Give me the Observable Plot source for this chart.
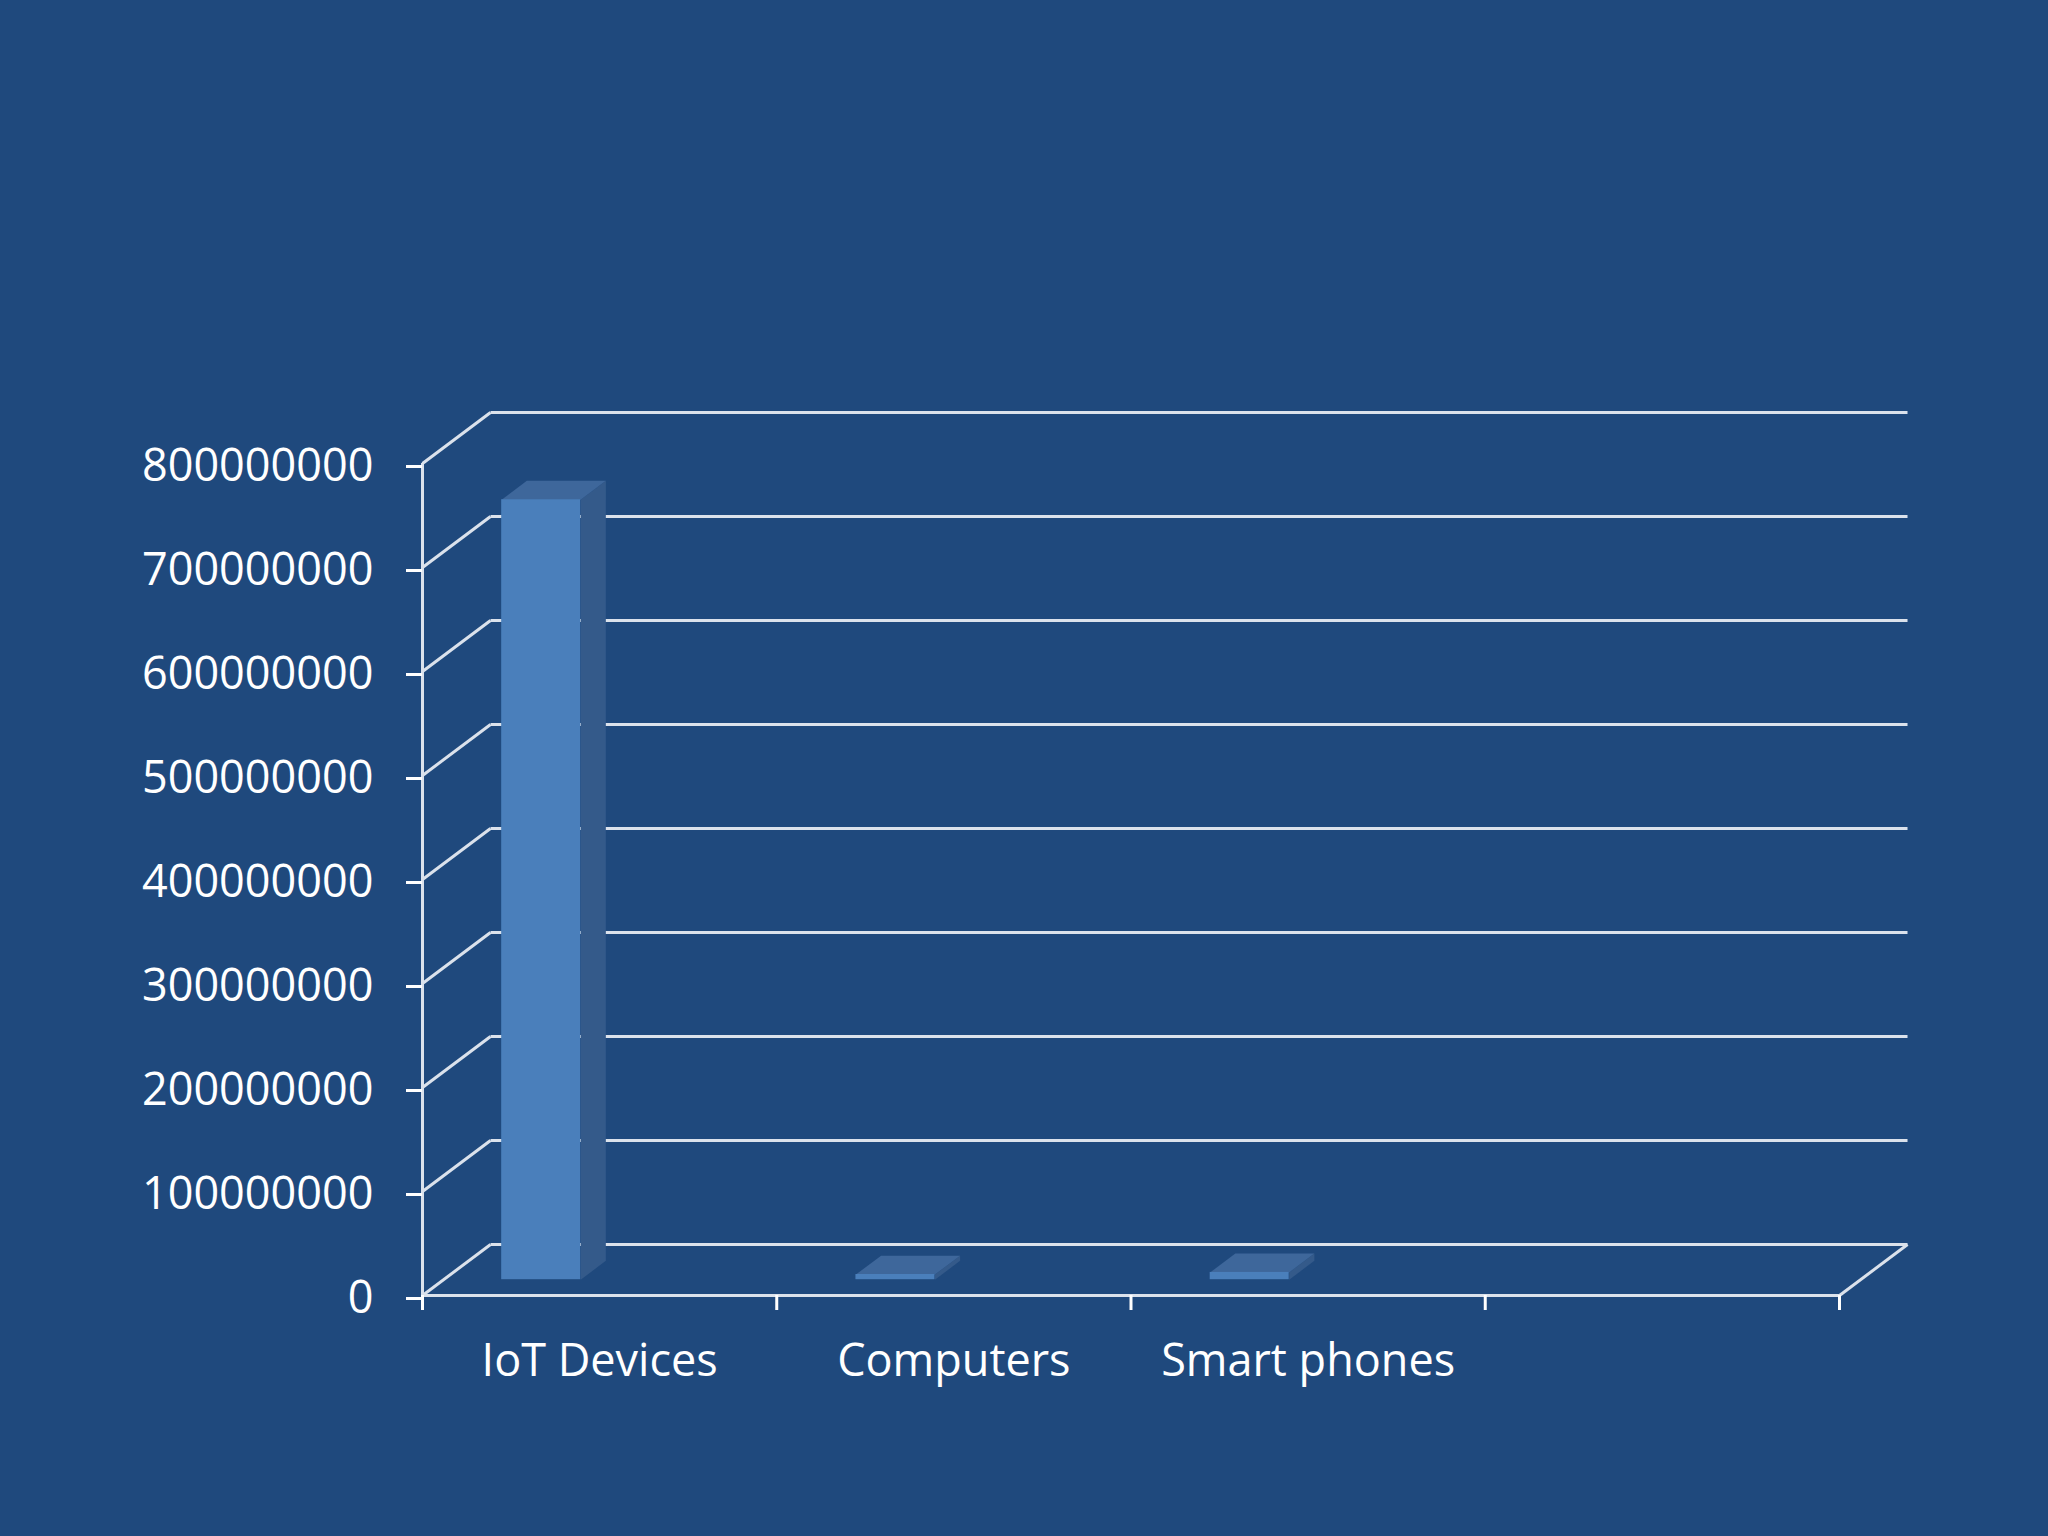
<!DOCTYPE html>
<html>
<head>
<meta charset="utf-8">
<script src="https://cdn.jsdelivr.net/npm/d3@7"></script>
<script src="https://cdn.jsdelivr.net/npm/@observablehq/plot@0.6"></script>
<style>
  html, body { margin: 0; padding: 0; background: #1f497d; }
  #chart { width: 2048px; height: 1536px; }
</style>
</head>
<body>
<div id="chart"></div>
<script>
// ---- data ----
const categories = ["IoT Devices", "Computers", "Smart phones", ""];
const values = [750000000, 5000000, 7000000, null];
const yTicks = [0, 100000000, 200000000, 300000000, 400000000, 500000000, 600000000, 700000000, 800000000];
const xTicks = [0, 1, 2, 3, 4];

// ---- oblique 3D projection (depth offsets expressed in scale units) ----
const DX = 0.192;        // full depth horizontal shift (category units)
const DY = 49000000;     // full depth vertical shift (value units)
const D0 = 0.31, D1 = 0.68;       // bar front/back depth fraction
const B0 = 0.164, B1 = 0.387;     // bar left/right within category band
const P = (x, v, d) => ({x: x + d * DX, y: v + d * DY});

const yMax = yTicks[yTicks.length - 1];
const nCat = categories.length;

// back wall gridlines
const backLines = yTicks.map(v => {
  const a = P(0, v, 1), b = P(nCat, v, 1);
  return {x1: a.x, y1: a.y, x2: b.x, y2: b.y};
});
// left wall diagonals
const sideLines = yTicks.map(v => {
  const a = P(0, v, 0), b = P(0, v, 1);
  return {x1: a.x, y1: a.y, x2: b.x, y2: b.y};
});
// floor right diagonal
const floorLines = [(() => { const a = P(nCat, 0, 0), b = P(nCat, 0, 1); return {x1: a.x, y1: a.y, x2: b.x, y2: b.y}; })()];

const fronts = [], sides = [], tops = [];
categories.forEach((c, i) => {
  const v = values[i];
  if (v == null) return;
  const l = i + B0, r = i + B1;
  const f0 = P(l, 0, D0), f1 = P(r, v, D0);
  fronts.push({x1: f0.x, x2: f1.x, y1: f0.y, y2: f1.y});
  [P(r, 0, D0), P(r, 0, D1), P(r, v, D1), P(r, v, D0)].forEach(p => sides.push({face: c, ...p}));
  [P(l, v, D0), P(r, v, D0), P(r, v, D1), P(l, v, D1)].forEach(p => tops.push({face: c, ...p}));
});

const labels = categories.map((c, i) => ({x: i + 0.5, label: c})).filter(d => d.label);

const grid = {stroke: "#dbe2ec", strokeWidth: 3};

const chart = Plot.plot({
  width: 2048,
  height: 1536,
  marginLeft: 422,
  marginRight: 209,
  marginTop: 463,
  marginBottom: 241,
  style: {background: "#1f497d", fontFamily: "'Open Sans', sans-serif", color: "white", overflow: "visible"},
  x: {type: "linear", domain: [0, nCat], axis: null},
  y: {type: "linear", domain: [0, yMax], axis: null},
  marks: [
    Plot.link(backLines, {x1: "x1", y1: "y1", x2: "x2", y2: "y2", ...grid}),
    Plot.link(sideLines, {x1: "x1", y1: "y1", x2: "x2", y2: "y2", ...grid}),
    Plot.link(floorLines, {x1: "x1", y1: "y1", x2: "x2", y2: "y2", ...grid}),
    Plot.line(sides, {x: "x", y: "y", z: "face", fill: "#345a8a", stroke: "none"}),
    Plot.line(tops, {x: "x", y: "y", z: "face", fill: "#3e679b", stroke: "none"}),
    Plot.rect(fronts, {x1: "x1", x2: "x2", y1: "y1", y2: "y2", fill: "#4a7fbb"}),
    Plot.ruleX([0], {y1: 0, y2: yMax, ...grid}),
    Plot.ruleY([0], {x1: 0, x2: nCat, ...grid}),
    Plot.axisY({ticks: yTicks, tickSize: 16, tickPadding: 33, tickFormat: d3.format("d"), fontSize: 45, color: "white", strokeWidth: 3, dy: 3}),
    Plot.axisX({ticks: xTicks, tickSize: 15, tickFormat: () => "", color: "white", strokeWidth: 3}),
    Plot.text(labels, {x: "x", y: () => 0, text: "label", dy: 66, fontSize: 45, fill: "white", textAnchor: "middle"})
  ]
});
document.getElementById("chart").appendChild(chart);
</script>
</body>
</html>
